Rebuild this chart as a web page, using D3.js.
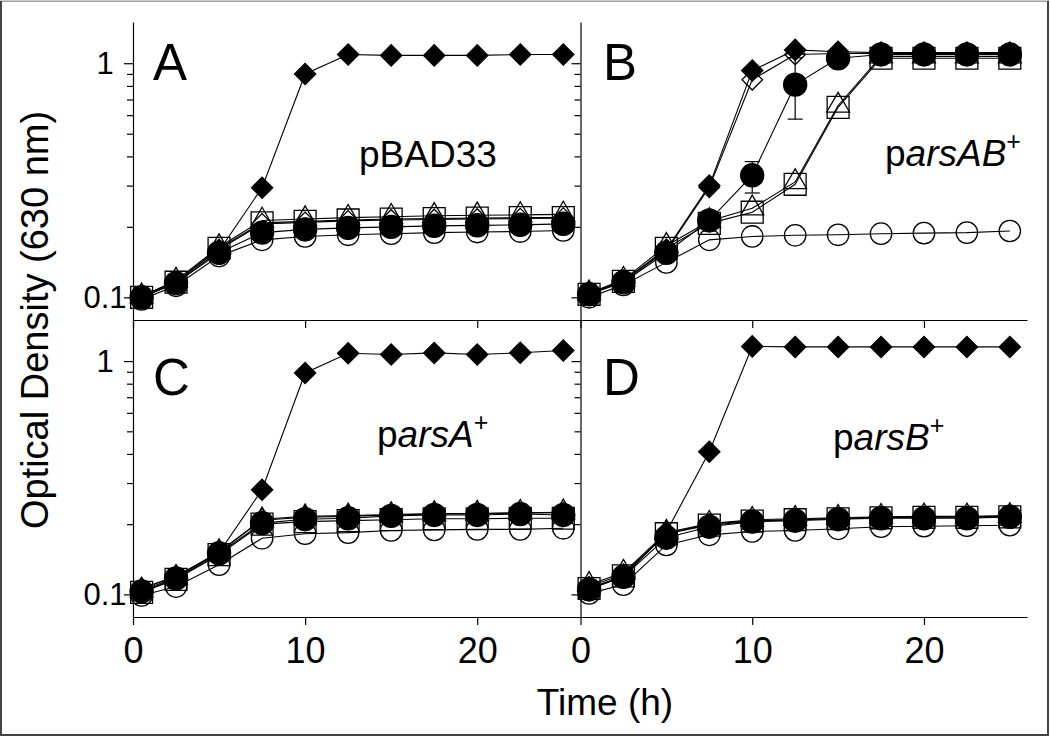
<!DOCTYPE html>
<html>
<head>
<meta charset="utf-8">
<script src="https://cdn.jsdelivr.net/npm/d3@7"></script>
<style>
  html, body { margin: 0; padding: 0; background: #fff; }
  text { font-family: "Liberation Sans", Arial, sans-serif; fill: #000; }
</style>
</head>
<body>
<svg id="chart" width="1050" height="739"></svg>
<script>
// ---------------- data ----------------
const times = [0.5, 2.5, 5, 7.5, 10, 12.5, 15, 17.5, 20, 22.5, 25];
const xTicks = [0, 10, 20];
const yMajorTicks = [0.1, 1];
const yMinorTicks = [0.2, 0.3, 0.4, 0.5, 0.6, 0.7, 0.8, 0.9];
const panelLetters = ["A", "B", "C", "D"];
const xAxisTitle = "Time (h)";
const yAxisTitle = "Optical Density (630 nm)";

// Panel A (pBAD33)
const aOpenCircle   = [0.098, 0.112, 0.150, 0.176, 0.182, 0.185, 0.187, 0.189, 0.190, 0.191, 0.193];
const aOpenSquare   = [0.100, 0.116, 0.162, 0.208, 0.211, 0.214, 0.216, 0.217, 0.218, 0.219, 0.219];
const aOpenTriangle = [0.101, 0.118, 0.164, 0.213, 0.216, 0.219, 0.221, 0.223, 0.224, 0.225, 0.226];
const aOpenDiamond  = [0.101, 0.117, 0.160, 0.206, 0.209, 0.212, 0.214, 0.215, 0.216, 0.217, 0.218];
const aFilledCircle = [0.100, 0.115, 0.155, 0.189, 0.195, 0.198, 0.200, 0.202, 0.203, 0.204, 0.206];
const aFilledDiamond= [0.100, 0.115, 0.158, 0.294, 0.900, 1.090, 1.080, 1.080, 1.080, 1.090, 1.090];

// Panel B (parsAB+)
const bOpenCircle   = [0.100, 0.113, 0.141, 0.176, 0.182, 0.184, 0.185, 0.187, 0.188, 0.189, 0.192];
const bOpenSquare   = [0.103, 0.117, 0.162, 0.207, 0.231, 0.304, 0.648, 1.050, 1.050, 1.050, 1.050];
const bOpenTriangle = [0.104, 0.119, 0.166, 0.212, 0.240, 0.311, 0.660, 1.070, 1.070, 1.070, 1.070];
const bOpenDiamond  = [0.103, 0.117, 0.158, 0.295, 0.850, 1.090, 1.100, 1.100, 1.100, 1.100, 1.100];
const bFilledCircle = [0.103, 0.116, 0.155, 0.213, 0.332, 0.810, 1.050, 1.090, 1.090, 1.090, 1.090];
const bFilledDiamond= [0.104, 0.118, 0.160, 0.300, 0.930, 1.140, 1.120, 1.110, 1.110, 1.110, 1.110];
const bFilledCircleErrLow  = [null, null, null, null, 0.279, 0.577, null, null, null, null, null];
const bFilledCircleErrHigh = [null, null, null, null, 0.380, 1.055, null, null, null, null, null];

// Panel C (parsA+)
const cOpenCircle   = [0.099, 0.108, 0.134, 0.174, 0.182, 0.184, 0.188, 0.189, 0.190, 0.190, 0.192];
const cOpenSquare   = [0.102, 0.116, 0.148, 0.200, 0.205, 0.207, 0.209, 0.211, 0.211, 0.212, 0.212];
const cOpenTriangle = [0.104, 0.118, 0.152, 0.208, 0.214, 0.216, 0.219, 0.221, 0.222, 0.224, 0.225];
const cOpenDiamond  = [0.106, 0.119, 0.152, 0.210, 0.216, 0.218, 0.220, 0.222, 0.222, 0.223, 0.224];
const cFilledCircle = [0.103, 0.117, 0.150, 0.202, 0.210, 0.212, 0.217, 0.219, 0.219, 0.221, 0.219];
const cFilledDiamond= [0.106, 0.120, 0.151, 0.281, 0.889, 1.080, 1.067, 1.084, 1.067, 1.085, 1.110];

// Panel D (parsB+)
const dOpenCircle   = [0.101, 0.110, 0.163, 0.180, 0.186, 0.188, 0.191, 0.195, 0.196, 0.197, 0.198];
const dOpenSquare   = [0.106, 0.120, 0.182, 0.198, 0.206, 0.209, 0.211, 0.213, 0.214, 0.214, 0.215];
const dOpenTriangle = [0.110, 0.124, 0.184, 0.201, 0.209, 0.211, 0.213, 0.215, 0.216, 0.216, 0.217];
const dOpenDiamond  = [0.108, 0.122, 0.182, 0.200, 0.207, 0.209, 0.212, 0.214, 0.215, 0.215, 0.217];
const dFilledCircle = [0.105, 0.119, 0.175, 0.195, 0.205, 0.207, 0.210, 0.212, 0.212, 0.212, 0.215];
const dFilledDiamond= [0.106, 0.120, 0.185, 0.409, 1.156, 1.150, 1.150, 1.150, 1.150, 1.150, 1.150];

// ---------------- build ----------------
const panels = [
  { letter: panelLetters[0], label: [["p", false], ["BAD33", false]], sup: null,
    series: [aOpenCircle, aOpenSquare, aOpenTriangle, aOpenDiamond, aFilledCircle, aFilledDiamond],
    err: null },
  { letter: panelLetters[1], label: [["p", false], ["arsAB", true]], sup: "+",
    series: [bOpenCircle, bOpenSquare, bOpenTriangle, bOpenDiamond, bFilledCircle, bFilledDiamond],
    err: { idx: 4, low: bFilledCircleErrLow, high: bFilledCircleErrHigh } },
  { letter: panelLetters[2], label: [["p", false], ["arsA", true]], sup: "+",
    series: [cOpenCircle, cOpenSquare, cOpenTriangle, cOpenDiamond, cFilledCircle, cFilledDiamond],
    err: null },
  { letter: panelLetters[3], label: [["p", false], ["arsB", true]], sup: "+",
    series: [dOpenCircle, dOpenSquare, dOpenTriangle, dOpenDiamond, dFilledCircle, dFilledDiamond],
    err: null }
];

// marker styles, in series order
const markerStyles = [
  { type: d3.symbolCircle,   size: 360, rot: 0,  filled: false },
  { type: d3.symbolSquare,   size: 480, rot: 0,  filled: false },
  { type: d3.symbolTriangle, size: 225, rot: 0,  filled: false },
  { type: d3.symbolSquare,   size: 210, rot: 45, filled: false },
  { type: d3.symbolCircle,   size: 420, rot: 0,  filled: true },
  { type: d3.symbolSquare,   size: 225, rot: 45, filled: true }
];

const svg = d3.select("#chart");

// outer frame
svg.append("rect").attr("x", 1).attr("y", 0.5).attr("width", 1047).attr("height", 734.5)
  .attr("fill", "none").attr("stroke", "#444").attr("stroke-width", 2);
svg.append("line").attr("x1", 0).attr("x2", 1050).attr("y1", 0.5).attr("y2", 0.5)
  .attr("stroke", "#ccc").attr("stroke-width", 1);

const colX = [[133, 580.5], [580.5, 1027]];
const rowY = [[22, 320], [320, 617]];
const xDomain = [0, 26];
const yDomain = [0.08, 1.5];

panels.forEach((p, i) => {
  const col = i % 2, row = Math.floor(i / 2);
  const x = d3.scaleLinear().domain(xDomain).range(colX[col]);
  const y = d3.scaleLog().domain(yDomain).range([rowY[row][1], rowY[row][0]]);
  const g = svg.append("g");

  // x axis
  const xAx = d3.axisBottom(x).tickValues(xTicks).tickSize(8).tickSizeOuter(0)
    .tickFormat(row === 1 ? d3.format("d") : () => "");
  const gx = g.append("g").attr("transform", `translate(0,${rowY[row][1]})`).call(xAx);
  gx.selectAll("text").attr("y", 46).attr("dy", null)
    .style("font-size", "36px").style("font-family", "'Liberation Sans', Arial, sans-serif");

  // y axis minor
  const yMin = d3.axisLeft(y).tickValues(yMinorTicks).tickSize(6).tickSizeOuter(0).tickFormat(() => "");
  const gym = g.append("g").attr("transform", `translate(${colX[col][0]},0)`).call(yMin);
  // y axis major
  const yMaj = d3.axisLeft(y).tickValues(yMajorTicks).tickSize(9).tickSizeOuter(0)
    .tickFormat(col === 0 ? (d => d === 1 ? "1" : "0.1") : () => "");
  const gy = g.append("g").attr("transform", `translate(${colX[col][0]},0)`).call(yMaj);
  gy.select(".domain").remove();
  gy.selectAll("text").attr("x", -28).attr("text-anchor", "middle")
    .style("font-size", "31px").style("font-family", "'Liberation Sans', Arial, sans-serif");

  [gx, gym, gy].forEach(a => {
    a.selectAll("path, line").attr("stroke", "#000").attr("stroke-width", 1.2);
  });

  // lines
  const line = d3.line().x((d, k) => x(times[k])).y(d => y(d));
  p.series.forEach(s => {
    g.append("path").datum(s).attr("d", line)
      .attr("fill", "none").attr("stroke", "#000").attr("stroke-width", 1.1);
  });

  // error bars
  if (p.err) {
    const eg = g.append("g").attr("stroke", "#000").attr("stroke-width", 1.2);
    times.forEach((t, k) => {
      if (p.err.low[k] == null) return;
      const cx = x(t);
      eg.append("line").attr("x1", cx).attr("x2", cx).attr("y1", y(p.err.low[k])).attr("y2", y(p.err.high[k]));
      eg.append("line").attr("x1", cx - 7.5).attr("x2", cx + 7.5).attr("y1", y(p.err.low[k])).attr("y2", y(p.err.low[k]));
      eg.append("line").attr("x1", cx - 7.5).attr("x2", cx + 7.5).attr("y1", y(p.err.high[k])).attr("y2", y(p.err.high[k]));
    });
  }

  // markers
  p.series.forEach((s, si) => {
    const st = markerStyles[si];
    const sym = d3.symbol().type(st.type).size(st.size);
    g.append("g").selectAll("path").data(s).join("path")
      .attr("d", sym)
      .attr("transform", (d, k) => `translate(${x(times[k])},${y(d)}) rotate(${st.rot})`)
      .attr("fill", st.filled ? "#000" : "none")
      .attr("stroke", "#000").attr("stroke-width", 1.3);
  });
});

// panel letters
const letterPos = [[153, 80], [603, 80], [153, 395], [603, 395]];
panels.forEach((p, i) => {
  svg.append("text").attr("x", letterPos[i][0]).attr("y", letterPos[i][1])
    .style("font-size", "51px").text(p.letter);
});

// plasmid labels
const labelPos = [[359, 167], [885, 166], [377, 447], [833, 450]];
panels.forEach((p, i) => {
  const t = svg.append("text").attr("x", labelPos[i][0]).attr("y", labelPos[i][1])
    .style("font-size", "37px");
  p.label.forEach(([s, it]) => {
    t.append("tspan").style("font-style", it ? "italic" : "normal").text(s);
  });
  if (p.sup) {
    t.append("tspan").attr("dy", -16).style("font-size", "25px").text(p.sup);
  }
});

// axis titles
svg.append("text").attr("x", 605).attr("y", 715).attr("text-anchor", "middle")
  .style("font-size", "37px").text(xAxisTitle);
svg.append("text").attr("transform", "translate(48,320) rotate(-90)").attr("text-anchor", "middle")
  .style("font-size", "38px").text(yAxisTitle);
</script>
</body>
</html>
